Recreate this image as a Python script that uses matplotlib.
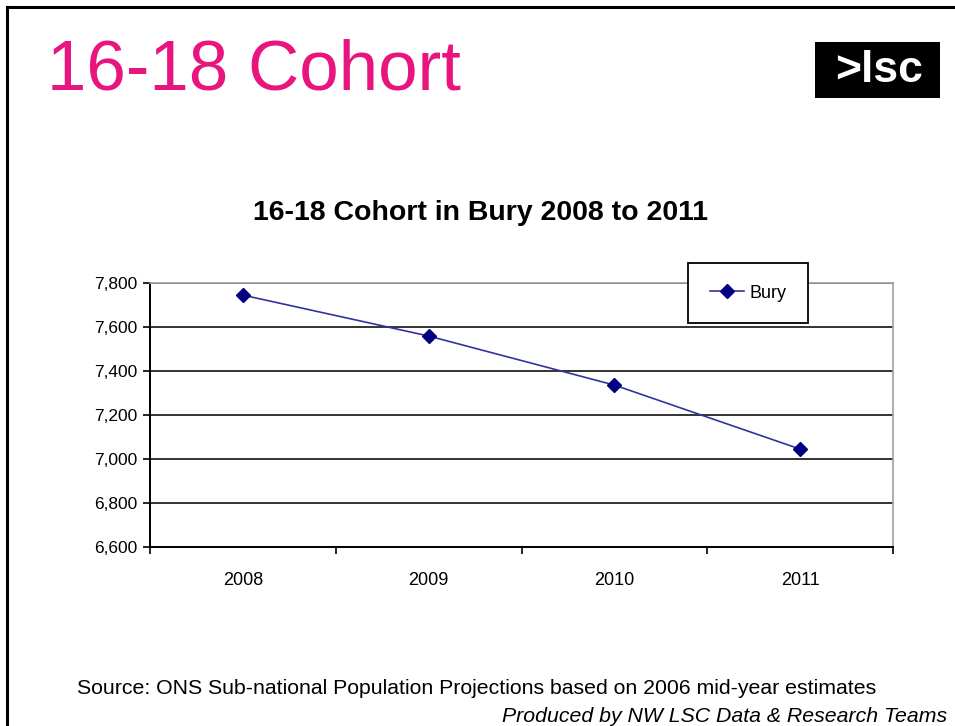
import matplotlib.pyplot as plt
from matplotlib.lines import Line2D
from matplotlib.patches import Rectangle
from matplotlib.ticker import FuncFormatter, FixedLocator

plt.rcParams["font.family"] = ["Liberation Sans", "DejaVu Sans"]

years = ["2008", "2009", "2010", "2011"]
bury = [7745, 7559, 7336, 7045]
y_ticks = [6600, 6800, 7000, 7200, 7400, 7600, 7800]

fig = plt.figure(figsize=(9.55, 7.26), dpi=100)

# slide frame (left and top edge)
fig.add_artist(Line2D([6.5 / 955, 6.5 / 955], [0, 1 - 7 / 726], color="black", lw=2.2))
fig.add_artist(Line2D([6.5 / 955, 1], [1 - 7 / 726, 1 - 7 / 726], color="black", lw=2.2))

fig.text(47 / 955, 1 - 72 / 726, "16-18 Cohort", color="#E8157F", fontsize=51,
         ha="left", va="center")

# lsc logo
fig.add_artist(Rectangle((815 / 955, 1 - 98 / 726), 125 / 955, 56 / 726,
                         facecolor="black", edgecolor="none"))
fig.text(879 / 955, 1 - 71 / 726, ">lsc", color="white", fontsize=32,
         fontweight="bold", ha="center", va="center")

fig.text(480 / 955, 1 - 213 / 726, "16-18 Cohort in Bury 2008 to 2011",
         fontsize=20.5, fontweight="bold", ha="center", va="center")

ax = fig.add_axes([150 / 955, 1 - 547 / 726, 743 / 955, 264 / 726])
x = list(range(len(years)))
ax.plot(x, bury, color="#3333A0", lw=1.2, marker="D", markersize=7.5,
        markerfacecolor="#000080", markeredgecolor="#000080", label="Bury")

ax.set_xlim(-0.5, len(years) - 0.5)
ax.set_ylim(6600, 7800)
ax.set_yticks(y_ticks)
ax.yaxis.set_major_formatter(FuncFormatter(lambda v, p: f"{int(v):,}"))
ax.set_xticks(x)
ax.set_xticklabels(years)
ax.xaxis.set_minor_locator(FixedLocator([i - 0.5 for i in range(len(years) + 1)]))
ax.tick_params(axis="x", which="major", length=0, pad=18, labelsize=13)
ax.tick_params(axis="x", which="minor", length=5, width=1.2, direction="out")
ax.tick_params(axis="y", length=5, width=1.2, direction="out", labelsize=12.5, pad=4)

ax.yaxis.grid(True, color="#333333", lw=1.4)
ax.set_axisbelow(True)
for side in ["top", "right"]:
    ax.spines[side].set_color("#a0a0a0")
    ax.spines[side].set_linewidth(1.2)
for side in ["left", "bottom"]:
    ax.spines[side].set_color("black")
    ax.spines[side].set_linewidth(1.4)

leg = ax.legend(loc="upper left", bbox_to_anchor=((688 - 150) / 743, (547 - 263) / 264),
                fontsize=13, frameon=True, fancybox=False, borderpad=1.2,
                handlelength=1.9, handletextpad=0.3, borderaxespad=0)
leg.get_frame().set_edgecolor("black")
leg.get_frame().set_linewidth(1.3)
leg.get_frame().set_alpha(1)

fig.text(77 / 955, 1 - 689 / 726,
         "Source: ONS Sub-national Population Projections based on 2006 mid-year estimates",
         fontsize=15.3, ha="left", va="center")
fig.text(947 / 955, 1 - 716 / 726, "Produced by NW LSC Data & Research Teams",
         fontsize=15.3, fontstyle="italic", ha="right", va="center")

fig.savefig("out.png", dpi=100)
